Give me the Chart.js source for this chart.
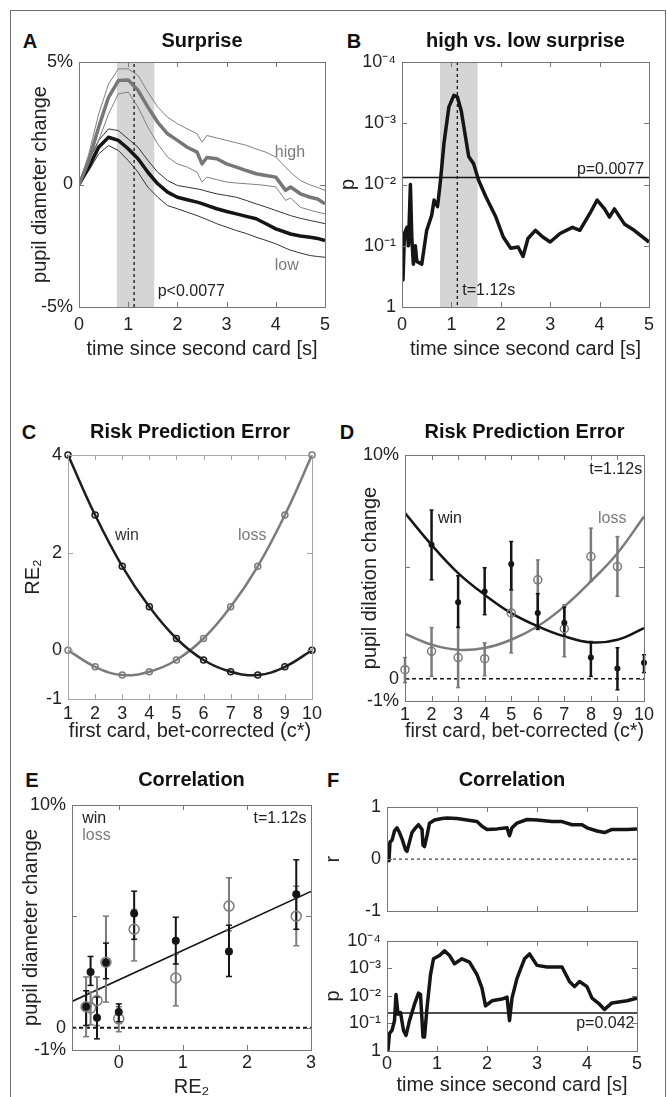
<!DOCTYPE html>
<html>
<head>
<meta charset="utf-8">
<script src="https://cdn.jsdelivr.net/npm/chart.js@4.4.1/dist/chart.umd.min.js"></script>
<style>
	body	{ margin: 0; background: #fff; }
	#fig	{ position: relative; width: 667px; height: 1097px; overflow: hidden; font-family: 'Liberation Sans', Arial, sans-serif; }
	#frame	{ position: absolute; left: 10px; top: 10px; width: 654px; height: 1120px; border: 1px solid #6e6e6e; }
	.lbl	{ position: absolute; font-weight: bold; font-size: 20px; line-height: 20px; color: #111; transform: translate( -50%, -50% ); }
	canvas	{ position: absolute; }
</style>
</head>
<body>
<div id="fig">
	<div id="frame"></div>
	<div class="lbl" style="left:30px;top:41px">A</div>
	<div class="lbl" style="left:354px;top:41px">B</div>
	<div class="lbl" style="left:29px;top:432px">C</div>
	<div class="lbl" style="left:347px;top:432px">D</div>
	<div class="lbl" style="left:32px;top:780px">E</div>
	<div class="lbl" style="left:333px;top:780px">F</div>
</div>
<script>
// ---- A : pupil diameter change (%), high vs low surprise ----
const tA	= [ 0, 0.2, 0.4, 0.6, 0.8, 1.0, 1.2, 1.4, 1.6, 1.8, 2.0, 2.2, 2.4, 2.5, 2.6, 2.8, 3.0, 3.2, 3.4, 3.6, 3.8, 4.0, 4.2, 4.3, 4.5, 4.7, 4.85, 5.0 ];
const hiMean	= [ 0, 0.98, 2.34, 3.56, 4.24, 4.27, 3.84, 3.16, 2.54, 2.07, 1.8, 1.52, 1.32, 0.84, 1.1, 1.05, 0.84, 0.71, 0.57, 0.44, 0.37, 0.3, -0.24, -0.1, -0.38, -0.52, -0.59, -0.79 ];
const hiUp	= [ 0, 1.25, 2.88, 4.1, 4.72, 4.72, 4.45, 3.77, 3.16, 2.75, 2.48, 2.27, 2.07, 1.73, 2.0, 1.9, 1.8, 1.7, 1.6, 1.45, 1.32, 1.12, 0.71, 0.5, 0.16, -0.02, -0.12, -0.24 ];
const hiLo	= [ 0, 0.71, 1.8, 2.88, 3.7, 3.77, 3.16, 2.34, 1.66, 1.12, 0.84, 0.71, 0.5, 0.1, 0.3, 0.2, 0.1, 0.06, 0.03, 0.0, -0.04, -0.1, -0.65, -0.55, -0.93, -1.05, -1.13, -1.2 ];
const loMean	= [ 0, 0.71, 1.52, 1.93, 1.8, 1.46, 1.05, 0.5, 0.03, -0.31, -0.52, -0.62, -0.72, -0.78, -0.85, -0.99, -1.1, -1.2, -1.3, -1.4, -1.6, -1.81, -1.95, -2.02, -2.1, -2.15, -2.2, -2.29 ];
const loUp	= [ 0, 0.98, 1.8, 2.27, 2.2, 1.86, 1.52, 0.98, 0.5, 0.16, -0.04, -0.11, -0.18, -0.22, -0.28, -0.38, -0.45, -0.52, -0.65, -0.79, -0.92, -1.06, -1.2, -1.27, -1.38, -1.47, -1.53, -1.6 ];
const loLo	= [ 0, 0.57, 1.25, 1.59, 1.39, 0.98, 0.5, -0.11, -0.52, -0.86, -0.99, -1.13, -1.27, -1.35, -1.43, -1.6, -1.74, -1.88, -2.0, -2.15, -2.28, -2.42, -2.6, -2.68, -2.8, -2.9, -2.94, -2.97 ];

// ---- B : p value high vs low ----
const tB	= [ 0, 0.02, 0.05, 0.1, 0.13, 0.17, 0.2, 0.23, 0.27, 0.3, 0.4, 0.5, 0.6, 0.65, 0.72, 0.78, 0.85, 0.95, 1.05, 1.12, 1.2, 1.35, 1.45, 1.55, 1.7, 1.9, 2.05, 2.2, 2.35, 2.45, 2.55, 2.7, 2.85, 3.0, 3.2, 3.45, 3.6, 3.8, 3.95, 4.1, 4.2, 4.3, 4.5, 4.7, 5.0 ];
const pB	= [ 0.079, 0.36, 0.063, 0.05, 0.1, 0.01, 0.079, 0.2, 0.1, 0.18, 0.2, 0.056, 0.032, 0.018, 0.023, 0.0085, 0.0021, 0.00054, 0.00035, 0.00037, 0.00063, 0.0035, 0.0046, 0.0085, 0.016, 0.034, 0.072, 0.11, 0.105, 0.15, 0.076, 0.056, 0.072, 0.087, 0.063, 0.05, 0.056, 0.03, 0.018, 0.025, 0.034, 0.025, 0.044, 0.056, 0.087 ];
const pThrB	= 0.0077;
const sigBand	= [ 0.77, 1.53 ];
const tPeak	= 1.12;

// ---- C / D / E : per first card ----
const cards	= [ 1, 2, 3, 4, 5, 6, 7, 8, 9, 10 ];
const re2Win	= [ 4, 2.77, 1.72, 0.89, 0.24, -0.2, -0.44, -0.51, -0.34, 0 ];
const re2Loss	= [ 0, -0.34, -0.51, -0.44, -0.2, 0.24, 0.89, 1.72, 2.77, 4 ];
const pupilWin	= [ null, 5.99, 3.42, 3.9, 5.13, 2.93, 2.5, 0.94, 0.45, 0.71 ];
const winHi	= [ null, 7.54, 4.6, 4.96, 6.13, 3.8, 3.2, 1.66, 1.38, 1.07 ];
const winLo	= [ null, 4.42, 2.3, 2.86, 3.97, 2.2, 1.9, 0.1, -0.5, 0.27 ];
const pupilLoss	= [ 0.4, 1.22, 0.94, 0.89, 2.94, 4.42, 2.23, 5.46, 5.01, null ];
const lossHi	= [ 0.94, 2.28, 2.28, 1.6, 5.01, 5.31, 3.3, 6.73, 6.35, null ];
const lossLo	= [ -0.18, 0.1, -0.4, 0.13, 1.15, 3.0, 0.98, 4.35, 3.68, null ];
const fitWin	= [ 7.4, 5.98, 4.72, 3.75, 2.93, 2.34, 1.89, 1.62, 1.74, 2.26 ];
const fitLoss	= [ 2.0, 1.52, 1.29, 1.37, 1.74, 2.34, 3.23, 4.35, 5.61, 7.25 ];
const eFitX	= [ -0.73, 3 ];
const eFitY	= [ 1.18, 6.12 ];

// ---- F : correlation over time ----
const tFr	= [ 0, 0.02, 0.04, 0.06, 0.1, 0.15, 0.2, 0.25, 0.3, 0.37, 0.4, 0.45, 0.5, 0.57, 0.63, 0.7, 0.72, 0.75, 0.8, 0.85, 0.95, 1.1, 1.2, 1.4, 1.6, 1.8, 1.9, 2.0, 2.2, 2.4, 2.45, 2.5, 2.6, 2.8, 3.0, 3.3, 3.5, 3.7, 3.9, 4.0, 4.2, 4.35, 4.5, 4.8, 5.0 ];
const rF	= [ 0.03, 0.27, -0.03, 0.33, 0.36, 0.54, 0.6, 0.51, 0.39, 0.18, 0.15, 0.33, 0.51, 0.6, 0.66, 0.57, 0.27, 0.24, 0.45, 0.69, 0.75, 0.78, 0.79, 0.78, 0.75, 0.72, 0.63, 0.57, 0.58, 0.6, 0.45, 0.6, 0.69, 0.76, 0.75, 0.72, 0.72, 0.66, 0.66, 0.6, 0.54, 0.51, 0.57, 0.57, 0.58 ];
const tFp	= [ 0, 0.02, 0.05, 0.1, 0.15, 0.18, 0.22, 0.27, 0.33, 0.38, 0.45, 0.55, 0.63, 0.67, 0.72, 0.75, 0.8, 0.87, 0.93, 1.05, 1.15, 1.25, 1.35, 1.5, 1.65, 1.8, 1.9, 1.97, 2.1, 2.3, 2.4, 2.45, 2.5, 2.6, 2.75, 2.85, 3.0, 3.2, 3.5, 3.65, 3.75, 3.85, 4.0, 4.1, 4.25, 4.35, 4.5, 4.8, 5.0 ];
const pF	= [ 0.54, 0.91, 0.23, 0.18, 0.079, 0.0089, 0.046, 0.04, 0.18, 0.27, 0.079, 0.02, 0.0079, 0.0089, 0.31, 0.31, 0.027, 0.0017, 0.00045, 0.00034, 0.00023, 0.00034, 0.00068, 0.00045, 0.00059, 0.0017, 0.0052, 0.023, 0.015, 0.013, 0.011, 0.079, 0.012, 0.0023, 0.00045, 0.0003, 0.00078, 0.00089, 0.00089, 0.003, 0.0046, 0.003, 0.0046, 0.012, 0.02, 0.031, 0.018, 0.015, 0.012 ];
const pThrF	= 0.042;

// tick label sets
const secTicks	= [ 0, 1, 2, 3, 4, 5 ];
const logTicks	= [ 1e-4, 1e-3, 1e-2, 1e-1, 1 ];
const logNames	= { '-4': '10⁻⁴', '-3': '10⁻³', '-2': '10⁻²', '-1': '10⁻¹', '0': '1' };

const INK	= '#151515';
const GREY	= '#7b7b7b';
const FONT	= "'Liberation Sans', Arial, sans-serif";

Chart.defaults.font.family	= FONT;
Chart.defaults.color		= '#222';

function xy( xs, ys ) {
	return xs.map( ( x, i ) => ( { x: x, y: ys[ i ] } ) );
}

function errSegs( xs, hi, lo ) {
	let out	= [];
	xs.forEach( ( x, i ) => {
		if ( hi[ i ] == null ) return;
		out.push( { x: x, y: lo[ i ] }, { x: x, y: hi[ i ] }, { x: x, y: null } );
	} );
	return out;
}

function ln( xs, ys, color, width, more ) {
	return Object.assign( {
		data: xy( xs, ys ), borderColor: color, borderWidth: width,
		pointRadius: 0, tension: 0, borderJoinStyle: 'round', fill: false
	}, more || {} );
}

const logFmt	= v => logNames[ Math.round( Math.log10( v ) ) ];
const pctA	= v => v === 0 ? '0' : v + '%';
const pctD	= v => v === 5 ? '' : ( v === 0 ? '0' : v + '%' );

// box + inward ticks on all four sides, MATLAB style
function frame( color ) {
	return {
		id: 'frame',
		afterDatasetsDraw( chart ) {
			const { ctx, chartArea: a, scales: { x, y } } = chart;
			ctx.save();
			ctx.strokeStyle	= color;
			ctx.lineWidth	= 1;
			ctx.beginPath();
			for ( const t of x.ticks ) {
				const px = Math.round( x.getPixelForValue( t.value ) ) + 0.5;
				ctx.moveTo( px, a.bottom );	ctx.lineTo( px, a.bottom - 5 );
				ctx.moveTo( px, a.top );	ctx.lineTo( px, a.top + 5 );
			}
			for ( const t of y.ticks ) {
				const py = Math.round( y.getPixelForValue( t.value ) ) + 0.5;
				ctx.moveTo( a.left, py );	ctx.lineTo( a.left + 5, py );
				ctx.moveTo( a.right, py );	ctx.lineTo( a.right - 5, py );
			}
			ctx.stroke();
			ctx.strokeRect( Math.round( a.left ) + 0.5, Math.round( a.top ) + 0.5, Math.round( a.right - a.left ), Math.round( a.bottom - a.top ) );
			ctx.restore();
		}
	};
}

function shade( band ) {
	return {
		id: 'shade',
		beforeDatasetsDraw( chart ) {
			const { ctx, chartArea: a, scales: { x } } = chart;
			const x0 = x.getPixelForValue( band[ 0 ] ), x1 = x.getPixelForValue( band[ 1 ] );
			ctx.save();
			ctx.fillStyle	= '#d5d5d5';
			ctx.fillRect( x0, a.top, x1 - x0, a.bottom - a.top );
			ctx.restore();
		}
	};
}

function notes( list ) {
	return {
		id: 'notes',
		afterDatasetsDraw( chart ) {
			const { ctx, scales: { x, y } } = chart;
			ctx.save();
			ctx.font		= '16px ' + FONT;
			ctx.textBaseline	= 'middle';
			for ( const n of list ) {
				ctx.fillStyle	= n.color || '#222';
				ctx.textAlign	= n.align || 'left';
				ctx.fillText( n.text, x.getPixelForValue( n.x ), y.getPixelForValue( n.y ) );
			}
			ctx.restore();
		}
	};
}

function axis( a, size, dir ) {
	return {
		type: a.type || 'linear', position: dir === 'x' ? 'bottom' : 'left',
		min: a.min, max: a.max, reverse: !!a.reverse,
		grid: { display: false, drawTicks: false }, border: { display: false },
		ticks: {
			display: a.labels !== false, autoSkip: false, maxRotation: 0, minRotation: 0,
			padding: a.pad != null ? a.pad : 6, font: { size: 18 }, color: '#222',
			callback: a.fmt || ( v => String( v ) )
		},
		title: a.title ? { display: true, text: a.title, font: { size: 20 }, color: '#222', padding: 0 } : { display: false },
		afterBuildTicks: s => { s.ticks = a.ticks.map( v => ( { value: v } ) ); },
		afterFit: s => { if ( dir === 'x' ) s.height = size; else s.width = size; }
	};
}

// plot = [ left, top, right, bottom ] of the axes box, in page pixels
function panel( plot, o ) {
	const [ l, t, r, b ]	= plot;
	const left	= Math.round( o.yTitleX - 12 );
	const top	= Math.round( o.title ? o.titleY - 12 : t - 14 );
	const w		= Math.round( r + 14 - left );
	const h		= Math.round( b + ( o.xTitleY ? o.xTitleY + 12 - b : 10 ) - top );
	const yW	= l - left;
	const topSp	= t - top;
	const xH	= top + h - b;
	const rightSp	= left + w - r;

	const cv	= document.createElement( 'canvas' );
	cv.width	= w;
	cv.height	= h;
	cv.style.left	= left + 'px';
	cv.style.top	= top + 'px';
	document.getElementById( 'fig' ).appendChild( cv );

	return new Chart( cv, {
		type: 'line',
		data: { datasets: o.datasets },
		options: {
			responsive: false, animation: false, events: [],
			layout: { autoPadding: false, padding: { left: 0, right: rightSp, top: o.title ? 0 : topSp, bottom: 0 } },
			plugins: {
				legend: { display: false }, tooltip: { enabled: false },
				title: o.title ? {
					display: true, text: o.title, fullSize: false, color: '#111',
					font: { size: 20, weight: 'bold' }, padding: { top: 0, bottom: topSp - 24 }
				} : { display: false }
			},
			scales: { x: axis( o.x, xH, 'x' ), y: axis( o.y, yW, 'y' ) }
		},
		plugins: [ frame( o.box || '#777' ) ].concat( o.plugins || [] )
	} );
}

// ---- A ----
panel( [ 79, 62, 325, 307 ], {
	title: 'Surprise', titleY: 41, yTitleX: 40, xTitleY: 349,
	x: { min: 0, max: 5, ticks: secTicks, pad: 7, title: 'time since second card [s]' },
	y: { min: -5, max: 5, ticks: [ -5, 0, 5 ], fmt: pctA, title: 'pupil diameter change' },
	datasets: [
		ln( tA, hiMean, '#777', 3.5 ),
		ln( tA, loMean, INK, 3.5 ),
		ln( tA, hiUp, '#808080', 1 ),
		ln( tA, hiLo, '#808080', 1 ),
		ln( tA, loUp, '#333', 1 ),
		ln( tA, loLo, '#333', 1 ),
		ln( [ tPeak, tPeak ], [ -5, 5 ], INK, 1.3, { borderDash: [ 3, 3 ] } )
	],
	plugins: [ shade( sigBand ), notes( [
		{ x: 3.98, y: 1.29, text: 'high', color: GREY },
		{ x: 3.98, y: -3.33, text: 'low', color: GREY },
		{ x: 1.6, y: -4.39, text: 'p<0.0077' }
	] ) ]
} );

// ---- B ----
panel( [ 402, 62, 649, 307 ], {
	title: 'high vs. low surprise', titleY: 41, yTitleX: 348, xTitleY: 349,
	x: { min: 0, max: 5, ticks: secTicks, pad: 7, title: 'time since second card [s]' },
	y: { type: 'logarithmic', min: 1e-4, max: 1, reverse: true, ticks: logTicks, fmt: logFmt, title: 'p' },
	datasets: [
		ln( tB, pB, INK, 3.5 ),
		ln( [ 0, 5 ], [ pThrB, pThrB ], INK, 1.5 ),
		ln( [ tPeak, tPeak ], [ 1e-4, 1 ], INK, 1.3, { borderDash: [ 3, 3 ] } )
	],
	plugins: [ shade( sigBand ), notes( [
		{ x: 4.9, y: 0.0057, text: 'p=0.0077', align: 'right' },
		{ x: 1.22, y: 0.53, text: 't=1.12s' }
	] ) ]
} );

// ---- C ----
panel( [ 68, 455, 312, 699 ], {
	title: 'Risk Prediction Error', titleY: 432, yTitleX: 33, xTitleY: 731, box: '#a5a5a5',
	x: { min: 1, max: 10, ticks: cards, pad: 4, title: 'first card, bet-corrected (c*)' },
	y: { min: -1, max: 4, ticks: [ -1, 0, 2, 4 ], title: 'RE₂' },
	datasets: [
		ln( cards, re2Win, '#1e1e1e', 2.5, { tension: 0.4, pointRadius: 3, pointBorderWidth: 1.5, pointBackgroundColor: 'rgba(0,0,0,0)', clip: false } ),
		ln( cards, re2Loss, GREY, 2.5, { tension: 0.4, pointRadius: 3, pointBorderWidth: 1.5, pointBackgroundColor: 'rgba(0,0,0,0)', clip: false } )
	],
	plugins: [ notes( [
		{ x: 2.73, y: 2.34, text: 'win', color: '#333' },
		{ x: 7.27, y: 2.34, text: 'loss', color: GREY }
	] ) ]
} );

// ---- D ----
panel( [ 405, 455, 644, 701 ], {
	title: 'Risk Prediction Error', titleY: 432, yTitleX: 370, xTitleY: 731,
	x: { min: 1, max: 10, ticks: cards, pad: 3, title: 'first card, bet-corrected (c*)' },
	y: { min: -1, max: 10, ticks: [ -1, 0, 5, 10 ], fmt: pctD, title: 'pupil dilation change' },
	datasets: [
		ln( cards, pupilWin, INK, 0, { showLine: false, pointRadius: 3, pointBackgroundColor: INK, pointBorderColor: INK, clip: false } ),
		ln( cards, pupilLoss, GREY, 0, { showLine: false, pointRadius: 4, pointBorderWidth: 1.5, pointBorderColor: GREY, pointBackgroundColor: 'rgba(0,0,0,0)', clip: false } ),
		{ data: errSegs( cards, winHi, winLo ), borderColor: INK, borderWidth: 2.5, pointStyle: 'line', pointRadius: 2, pointBorderColor: INK, pointBorderWidth: 1.5, clip: false },
		{ data: errSegs( cards, lossHi, lossLo ), borderColor: GREY, borderWidth: 2.5, pointStyle: 'line', pointRadius: 2, pointBorderColor: GREY, pointBorderWidth: 1.5, clip: false },
		ln( cards, fitWin, INK, 2.5, { tension: 0.4 } ),
		ln( cards, fitLoss, GREY, 2.5, { tension: 0.4 } ),
		ln( [ 1, 10 ], [ 0, 0 ], INK, 1.5, { borderDash: [ 4, 3 ] } )
	],
	plugins: [ notes( [
		{ x: 9.93, y: 9.35, text: 't=1.12s', align: 'right' },
		{ x: 2.24, y: 7.14, text: 'win', color: '#222' },
		{ x: 8.27, y: 7.14, text: 'loss', color: GREY }
	] ) ]
} );

// ---- E ----
panel( [ 72, 805, 311, 1050 ], {
	title: 'Correlation', titleY: 780, yTitleX: 31, xTitleY: 1087,
	x: { min: -0.73, max: 3, ticks: [ 0, 1, 2, 3 ], pad: 2, title: 'RE₂' },
	y: { min: -1, max: 10, ticks: [ -1, 0, 5, 10 ], fmt: pctD, title: 'pupil diameter change' },
	datasets: [
		ln( re2Win, pupilWin, INK, 0, { showLine: false, pointRadius: 4, pointBackgroundColor: INK, pointBorderColor: INK, clip: false } ),
		ln( re2Loss, pupilLoss, GREY, 0, { showLine: false, pointRadius: 5, pointBorderWidth: 1.5, pointBorderColor: GREY, pointBackgroundColor: 'rgba(0,0,0,0)', clip: false } ),
		{ data: errSegs( re2Win, winHi, winLo ), borderColor: INK, borderWidth: 2, pointStyle: 'line', pointRadius: 3, pointBorderColor: INK, pointBorderWidth: 1.5 },
		{ data: errSegs( re2Loss, lossHi, lossLo ), borderColor: GREY, borderWidth: 2, pointStyle: 'line', pointRadius: 3, pointBorderColor: GREY, pointBorderWidth: 1.5 },
		ln( eFitX, eFitY, INK, 1.5 ),
		ln( [ -0.73, 3 ], [ 0, 0 ], INK, 2, { borderDash: [ 4, 3 ] } )
	],
	plugins: [ notes( [
		{ x: -0.57, y: 9.4, text: 'win', color: '#222' },
		{ x: -0.57, y: 8.62, text: 'loss', color: GREY },
		{ x: 2.93, y: 9.4, text: 't=1.12s', align: 'right' }
	] ) ]
} );

// ---- F (r) ----
panel( [ 387, 807, 637, 918 ], {
	title: 'Correlation', titleY: 780, yTitleX: 333,
	x: { min: 0, max: 5, ticks: secTicks, labels: false },
	y: { min: -1, max: 1, ticks: [ -1, 0, 1 ], title: 'r' },
	datasets: [
		ln( tFr, rF, INK, 3.5 ),
		ln( [ 0, 5 ], [ 0, 0 ], INK, 1, { borderDash: [ 3, 3 ] } )
	]
} );

// ---- F (p) ----
panel( [ 387, 938, 637, 1051 ], {
	yTitleX: 333, xTitleY: 1085,
	x: { min: 0, max: 5, ticks: secTicks, pad: 2, title: 'time since second card [s]' },
	y: { type: 'logarithmic', min: 1e-4, max: 1, reverse: true, ticks: logTicks, fmt: logFmt, title: 'p' },
	datasets: [
		ln( tFp, pF, INK, 3.5 ),
		ln( [ 0, 5 ], [ pThrF, pThrF ], INK, 1.5 )
	],
	plugins: [ notes( [
		{ x: 4.95, y: 0.1, text: 'p=0.042', align: 'right' }
	] ) ]
} );
</script>
</body>
</html>
